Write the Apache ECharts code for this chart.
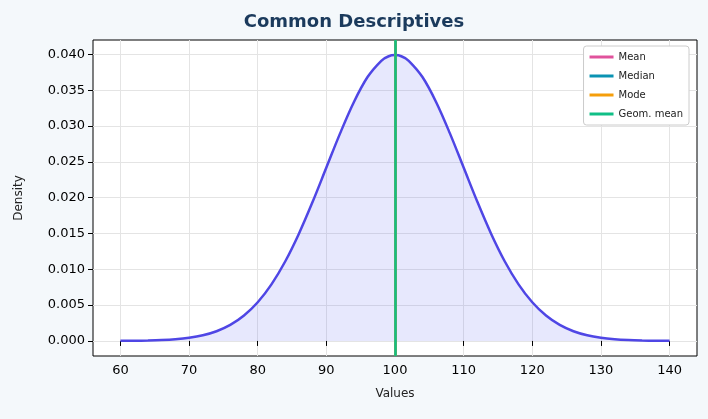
<!DOCTYPE html>
<html>
<head>
<meta charset="utf-8">
<script src="https://cdn.jsdelivr.net/npm/echarts@6/dist/echarts.min.js"></script>
<style>
  html, body { margin: 0; padding: 0; background: #f4f8fb; }
  #chart { width: 708px; height: 419px; }
</style>
</head>
<body>
<div id="chart"></div>
<script>
// values
var xValues = [60, 62, 64, 66, 68, 70, 72, 74, 76, 78, 80, 82, 84, 86, 88, 90, 92, 94, 96, 98, 99, 100, 101,
               102, 104, 106, 108, 110, 112, 114, 116, 118, 120, 122, 124, 126, 128, 130, 132, 134, 136, 138, 140];
var density = [0.000013, 0.000029, 0.000061, 0.000123, 0.000238, 0.000443, 0.000792, 0.001358, 0.00224, 0.00355,
               0.0054, 0.0079, 0.01109, 0.01497, 0.01942, 0.0242, 0.02897, 0.03332, 0.03683, 0.0391, 0.0397, 0.03989, 0.0397,
               0.0391, 0.03683, 0.03332, 0.02897, 0.0242, 0.01942, 0.01497, 0.01109, 0.0079, 0.0054,
               0.00355, 0.00224, 0.001358, 0.000792, 0.000443, 0.000238, 0.000123, 0.000061, 0.000029, 0.000013];
var statNames = ['Mean', 'Median', 'Mode', 'Geom. mean'];
var statValues = [100, 100, 100, 100];
var statColors = ['#e0529c', '#0a93b3', '#f59e0b', '#10bf86'];
var xTicks = [60, 70, 80, 90, 100, 110, 120, 130, 140];
var yTicks = [0, 0.005, 0.01, 0.015, 0.02, 0.025, 0.03, 0.035, 0.04];

var myChart = echarts.init(document.getElementById('chart'));

var series = [{
    name: 'density',
    type: 'line',
    data: xValues.map(function (x, i) { return [x, density[i]]; }),
    smooth: 0.35,
    symbol: 'none',
    lineStyle: { color: '#4f46e5', width: 2.5 },
    areaStyle: { color: 'rgba(99,102,241,0.22)', origin: 0 },
    z: 2
}];

statNames.forEach(function (name, i) {
    series.push({
        name: name,
        type: 'line',
        data: [],
        color: statColors[i],
        markLine: {
            symbol: 'none',
            silent: true,
            label: { show: false },
            lineStyle: { color: statColors[i], width: 2.5, type: 'solid' },
            data: [{ xAxis: statValues[i] }]
        },
        z: 3 + i
    });
});

var option = {
    backgroundColor: '#f4f8fb',
    textStyle: { fontFamily: 'DejaVu Sans, sans-serif' },
    title: {
        text: 'Common Descriptives',
        left: 'center',
        top: 8,
        textStyle: { color: '#1b3a5c', fontSize: 18, fontWeight: 'bold' }
    },
    legend: {
        data: statNames,
        orient: 'vertical',
        right: 19,
        top: 46,
        icon: 'rect',
        itemWidth: 24,
        itemHeight: 3,
        itemGap: 9,
        padding: [6, 6],
        backgroundColor: '#fff',
        borderColor: '#ccc',
        borderWidth: 1,
        borderRadius: 3,
        textStyle: { fontSize: 10, color: '#222' }
    },
    grid: { left: 93, right: 11, top: 40, bottom: 63, backgroundColor: '#fff', show: true, borderColor: '#000', borderWidth: 1 },
    xAxis: {
        type: 'value',
        min: 56,
        max: 144,
        name: 'Values',
        nameLocation: 'middle',
        nameGap: 32,
        nameTextStyle: { fontSize: 12, color: '#222' },
        axisLine: { show: false },
        axisTick: { show: true, customValues: xTicks, lineStyle: { color: '#000' } },
        axisLabel: { customValues: xTicks, color: '#000', fontSize: 13 },
        splitLine: { show: true, lineStyle: { color: '#e4e4e4' } }
    },
    yAxis: {
        type: 'value',
        min: -0.0021,
        max: 0.042,
        name: 'Density',
        nameLocation: 'middle',
        nameGap: 68,
        nameTextStyle: { fontSize: 12, color: '#222' },
        axisLine: { show: false },
        axisTick: { show: true, customValues: yTicks, lineStyle: { color: '#000' } },
        axisLabel: { customValues: yTicks, color: '#000', fontSize: 13, formatter: function (v) { return v.toFixed(3); } },
        splitLine: { show: true, lineStyle: { color: '#e4e4e4' } }
    },
    series: series
};

myChart.setOption(option);
</script>
</body>
</html>
